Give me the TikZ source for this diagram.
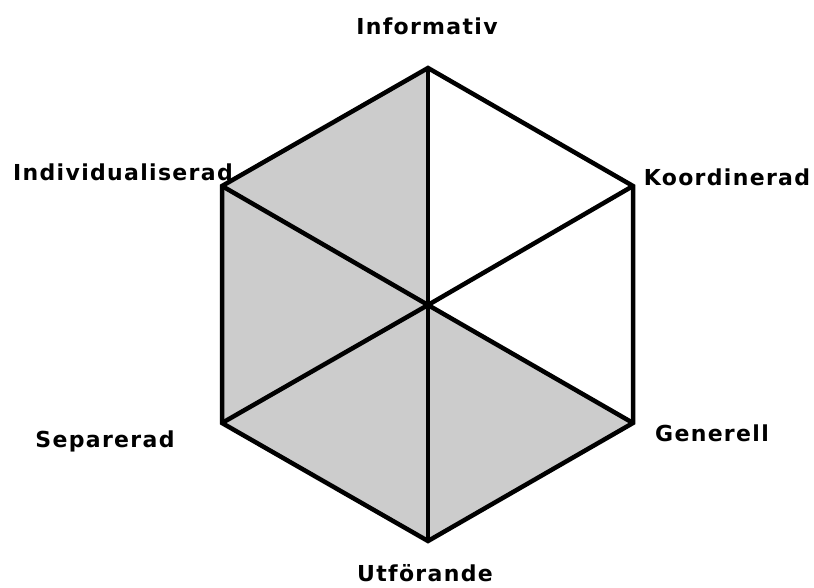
\documentclass[tikz,border=0pt]{standalone}
\usepackage{fontspec}
\setmainfont{DejaVu Sans}[LetterSpace=6]
\definecolor{sidegray}{RGB}{204,204,204}
\tikzset{
  label/.style={font=\bfseries\fontsize{22}{26}\selectfont, inner sep=0pt},
  edge/.style={line width=4.5pt, line join=miter}
}
\begin{document}
\begin{tikzpicture}[x=1pt,y=-1pt]
\useasboundingbox (0,0) rectangle (814,588);
\coordinate (m) at (428,305);
\coordinate (inf) at (428,68);
\coordinate (koo) at (633,186);
\coordinate (gen) at (633,423);
\coordinate (utf) at (428,541);
\coordinate (sep) at (222,423);
\coordinate (ind) at (222,186);
\fill[sidegray] (m) -- (inf) -- (ind) -- (sep) -- (utf) -- (gen) -- cycle;
\draw[edge] (inf) -- (koo) -- (gen) -- (utf) -- (sep) -- (ind) -- cycle;
\draw[edge] (m) -- (inf);
\draw[edge] (m) -- (koo);
\draw[edge] (m) -- (gen);
\draw[edge] (m) -- (utf);
\draw[edge] (m) -- (sep);
\draw[edge] (m) -- (ind);
\node[label] (linf) at (427,26) {Informativ};
\node[label] (lind) at (123,172) {Individualiserad};
\node[label] (lkoo) at (727,177) {Koordinerad};
\node[label] (lsep) at (105,441) {Separerad};
\node[label] (lgen) at (712,433) {Generell};
\node[label] (lutf) at (425,573) {Utförande};
\end{tikzpicture}
\end{document}
